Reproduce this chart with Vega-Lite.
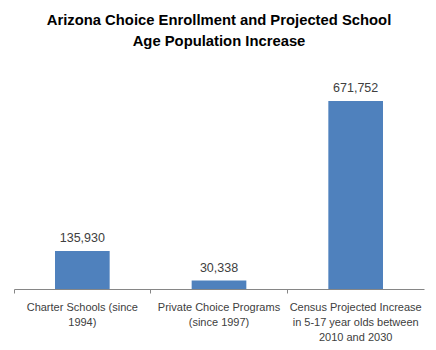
{
  "$schema": "https://vega.github.io/schema/vega-lite/v6.json",
  "width": 410,
  "height": 224,
  "padding": {"left": 13, "right": 13, "top": 13, "bottom": 0},
  "background": "white",
  "title": {
    "text": ["Arizona Choice Enrollment and Projected School", "Age Population Increase"],
    "font": "Liberation Sans",
    "fontSize": 14.8,
    "fontWeight": "bold",
    "color": "#000000",
    "lineHeight": 21,
    "anchor": "middle",
    "offset": 16
  },
  "data": {
    "values": [
      {"category": "Charter Schools (since 1994)", "value": 135930},
      {"category": "Private Choice Programs (since 1997)", "value": 30338},
      {"category": "Census Projected Increase in 5-17 year olds between 2010 and 2030", "value": 671752}
    ]
  },
  "encoding": {
    "x": {
      "field": "category",
      "type": "nominal",
      "sort": null,
      "scale": {"paddingInner": 0, "paddingOuter": 0},
      "axis": {
        "title": null,
        "labelAngle": 0,
        "bandPosition": 0,
        "labelExpr": "datum.value == 'Charter Schools (since 1994)' ? ['Charter Schools (since', '1994)'] : datum.value == 'Private Choice Programs (since 1997)' ? ['Private Choice Programs', '(since 1997)'] : ['Census Projected Increase', 'in 5-17 year olds between', '2010 and 2030']",
        "labelFont": "Liberation Sans",
        "labelFontSize": 11,
        "labelColor": "#404040",
        "labelLineHeight": 15,
        "labelPadding": 8,
        "labelAlign": "center",
        "labelBound": false,
        "labelOverlap": false,
        "domainColor": "#868686",
        "tickColor": "#868686",
        "tickSize": 4,
        "grid": false
      }
    },
    "y": {
      "field": "value",
      "type": "quantitative",
      "scale": {"domain": [0, 800000]},
      "axis": null
    }
  },
  "layer": [
    {"mark": {"type": "bar", "color": "#4F81BD", "width": {"band": 0.4}}},
    {
      "mark": {"type": "text", "dy": -13, "font": "Liberation Sans", "fontSize": 12.5, "color": "#404040"},
      "encoding": {
        "text": {"field": "value", "type": "quantitative", "format": ",d"}
      }
    }
  ],
  "config": {"view": {"stroke": null}}
}
